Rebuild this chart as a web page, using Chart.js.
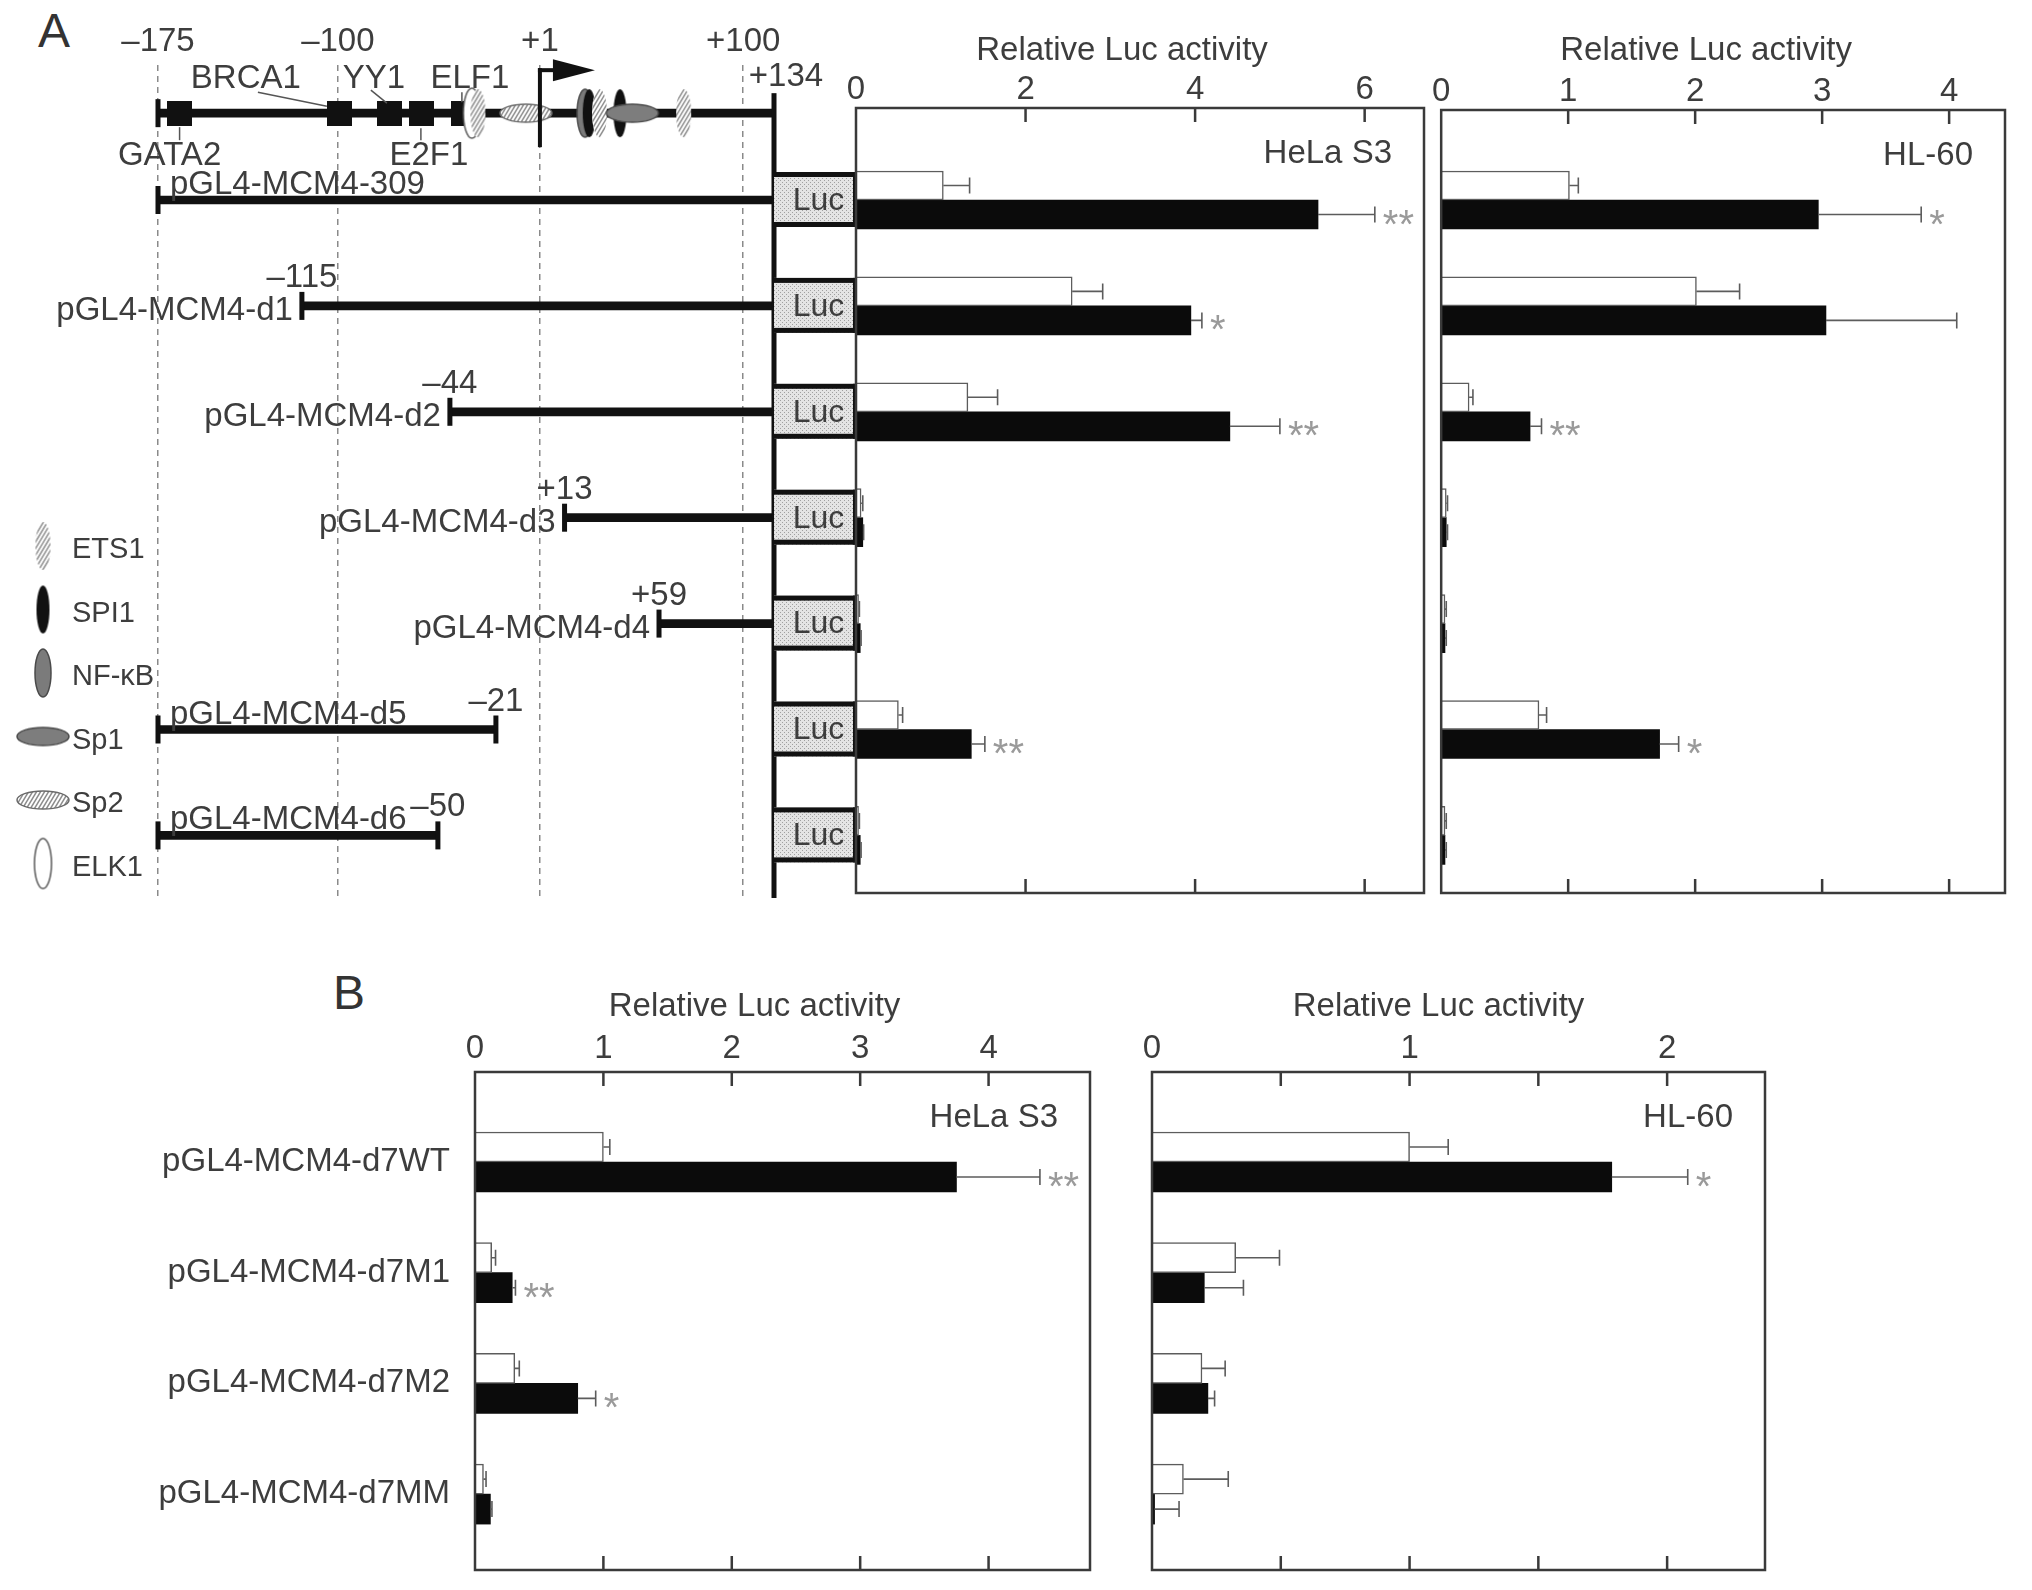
<!DOCTYPE html>
<html>
<head>
<meta charset="utf-8">
<title>MCM4 promoter reporter assays</title>
<script src="https://cdn.jsdelivr.net/npm/chart.js@4.4.1/dist/chart.umd.min.js"></script>
<style>
  html, body { margin: 0; padding: 0; background: #fff; }
  body { position: relative; width: 2032px; height: 1590px; overflow: hidden; font-family: 'Liberation Sans', Arial, sans-serif; color: #333; }
  .wrap { position: absolute; }
  .tag { position: absolute; font-size: 48px; line-height: 48px; }
</style>
</head>
<body>
<div class="tag" style="left:38px;top:7px">A</div>
<div class="tag" style="left:333px;top:969px">B</div>
<div class="wrap" style="left:0;top:0;width:858px;height:910px"><canvas id="map"></canvas></div>
<div class="wrap" style="left:840px;top:0;width:592px;height:910px"><canvas id="helaA"></canvas></div>
<div class="wrap" style="left:1432px;top:0;width:600px;height:910px"><canvas id="hlA"></canvas></div>
<div class="wrap" style="left:100px;top:960px;width:1010px;height:630px"><canvas id="helaB"></canvas></div>
<div class="wrap" style="left:1120px;top:960px;width:680px;height:630px"><canvas id="hlB"></canvas></div>
<script>
// promoter map (positions relative to the transcription start, no position 0)
const constructs = ['pGL4-MCM4-309', 'pGL4-MCM4-d1', 'pGL4-MCM4-d2', 'pGL4-MCM4-d3', 'pGL4-MCM4-d4', 'pGL4-MCM4-d5', 'pGL4-MCM4-d6'];
const constructStart = [-175, -115, -44, 13, 59, -175, -175];
const constructEnd = [134, 134, 134, 134, 134, -21, -50];
const promoter = [-175, 134];
const mapTicks = [-175, -100, 1, 100];
const siteNames = ['GATA2', 'BRCA1', 'YY1', 'E2F1', 'ELF1', 'ELK1', 'ETS1', 'Sp2', 'NF-κB', 'SPI1', 'ETS1', 'SPI1', 'Sp1', 'ETS1'];
const sitePos = [-166, -99, -74, -58, -40, -33, -30, -6, 23, 25, 30, 40, 46, 71];
const legendNames = ['ETS1', 'SPI1', 'NF-κB', 'Sp1', 'Sp2', 'ELK1'];

// relative Luc activity, panel A (open = white bars, fill = black bars)
const helaA_open = [1.03, 2.55, 1.32, 0.06, 0.03, 0.50, 0.03];
const helaA_openSD = [0.31, 0.36, 0.35, 0.02, 0.01, 0.05, 0.01];
const helaA_fill = [5.45, 3.95, 4.41, 0.08, 0.05, 1.36, 0.05];
const helaA_fillSD = [0.67, 0.13, 0.59, 0.01, 0.01, 0.16, 0.01];
const helaA_sig = ['**', '*', '**', '', '', '**', ''];

const hlA_open = [1.01, 2.01, 0.22, 0.04, 0.03, 0.77, 0.03];
const hlA_openSD = [0.07, 0.34, 0.03, 0.01, 0.01, 0.06, 0.01];
const hlA_fill = [2.97, 3.03, 0.70, 0.04, 0.03, 1.72, 0.03];
const hlA_fillSD = [0.81, 1.03, 0.09, 0.01, 0.01, 0.15, 0.01];
const hlA_sig = ['*', '', '**', '', '', '*', ''];

// panel B
const mutants = ['pGL4-MCM4-d7WT', 'pGL4-MCM4-d7M1', 'pGL4-MCM4-d7M2', 'pGL4-MCM4-d7MM'];
const helaB_open = [1.00, 0.13, 0.31, 0.066];
const helaB_openSD = [0.05, 0.03, 0.035, 0.02];
const helaB_fill = [3.75, 0.29, 0.80, 0.12];
const helaB_fillSD = [0.65, 0.025, 0.14, 0.012];
const helaB_sig = ['**', '**', '*', ''];

const hlB_open = [1.00, 0.325, 0.194, 0.122];
const hlB_openSD = [0.15, 0.17, 0.09, 0.174];
const hlB_fill = [1.785, 0.203, 0.217, 0.01];
const hlB_fillSD = [0.295, 0.152, 0.026, 0.095];
const hlB_sig = ['*', '', '', ''];

// axis ticks (labels only on whole numbers)
const helaA_ticks = [0, 2, 4, 6];
const hlA_ticks = [0, 1, 2, 3, 4];
const helaB_ticks = [0, 1, 2, 3, 4];
const hlB_ticks = [0, 0.5, 1, 1.5, 2];

const FONT = "'Liberation Sans', Arial, sans-serif";
const INK = '#3d3d3d';
Chart.defaults.font.family = FONT;
Chart.defaults.font.size = 33;
Chart.defaults.color = INK;

// the map is not drawn to scale: each stretch between these marks gets its own share of the width
const mapStops = [-175, -100, 1, 100, 134];
const mapShares = [0, 0.292, 0.620, 0.950, 1];

class MapScale extends Chart.LinearScale {
  static id = 'map';
  getPixelForValue(value) {
    let i = 1;
    while (i < mapStops.length - 1 && value > mapStops[i]) i++;
    const t = (value - mapStops[i - 1]) / (mapStops[i] - mapStops[i - 1]);
    return this.left + (mapShares[i - 1] + t * (mapShares[i] - mapShares[i - 1])) * this.width;
  }
  getValueForPixel(pixel) {
    const f = (pixel - this.left) / this.width;
    let i = 1;
    while (i < mapShares.length - 1 && f > mapShares[i]) i++;
    const t = (f - mapShares[i - 1]) / (mapShares[i] - mapShares[i - 1]);
    return mapStops[i - 1] + t * (mapStops[i] - mapStops[i - 1]);
  }
}
Chart.register(MapScale);

const fmtPos = v => (v < 0 ? '\u2013' + (-v) : '+' + v);
const rowRange = (top, bottom, first, step) => [(top - first) / step, (bottom - first) / step];
const geneRow = -0.82;

// little pictures for the binding sites
function ellipseIcon(w, h, fill, edge, hatch) {
  const c = document.createElement('canvas');
  c.width = Math.ceil(w + 4);
  c.height = Math.ceil(h + 4);
  const g = c.getContext('2d');
  const shape = () => { g.beginPath(); g.ellipse(c.width / 2, c.height / 2, w / 2, h / 2, 0, 0, Math.PI * 2); };
  shape();
  g.fillStyle = fill;
  g.fill();
  if (hatch) {
    g.save();
    shape();
    g.clip();
    g.strokeStyle = hatch;
    g.lineWidth = 1.5;
    for (let k = -c.height; k < c.width + c.height; k += 4) {
      g.beginPath();
      g.moveTo(k, c.height);
      g.lineTo(k + c.height * 0.6, 0);
      g.stroke();
    }
    g.restore();
  }
  if (edge) {
    shape();
    g.strokeStyle = edge;
    g.lineWidth = 1.5;
    g.stroke();
  }
  return c;
}
function boxIcon(w, h) {
  const c = document.createElement('canvas');
  c.width = w; c.height = h;
  const g = c.getContext('2d');
  g.fillStyle = '#111';
  g.fillRect(0, 0, w, h);
  return c;
}
const icons = {
  box: boxIcon(25, 25),
  boxThin: boxIcon(13, 25),
  ETS1: ellipseIcon(15, 48, '#fff', null, '#8c8c8c'),
  SPI1: ellipseIcon(13, 48, '#111'),
  'NF-κB': ellipseIcon(16, 48, '#7b7b7b', '#4a4a4a'),
  Sp1: ellipseIcon(52, 18, '#7d7d7d', '#4a4a4a'),
  Sp2: ellipseIcon(52, 18, '#fff', '#6a6a6a', '#8c8c8c'),
  ELK1: ellipseIcon(17, 50, '#fff', '#5a5a5a')
};
const iconOf = n => icons[n] || (n === 'ELF1' ? icons.boxThin : icons.box);

// where the names of the boxed sites sit, relative to the box
const boxLabelLayout = {
  GATA2: {dx: -10, up: false, lead: [0, 14, 0, 27]},
  BRCA1: {dx: -94, up: true, lead: [-82, -21, -13, -7]},
  YY1: {dx: -16, up: true, lead: [-19, -23, -3, -10]},
  E2F1: {dx: 7, up: false, lead: [-1, 15, -1, 27]},
  ELF1: {dx: 12, up: true, lead: [4, -21, 4, -11]}
};

const dots = document.createElement('canvas');
dots.width = dots.height = 4;
const dg = dots.getContext('2d');
dg.fillStyle = '#e4e4e4';
dg.fillRect(0, 0, 4, 4);
dg.fillStyle = '#a0a0a0';
dg.fillRect(0, 0, 1, 1);
dg.fillRect(2, 2, 1, 1);

const mapDecor = {
  id: 'mapDecor',
  afterDatasetsDraw(chart) {
    const {ctx, chartArea: a, scales: {x, y}} = chart;
    const gy = y.getPixelForValue(geneRow);
    ctx.save();
    ctx.fillStyle = '#111';
    const cap = (px, py) => ctx.fillRect(px - 2.5, py - 14, 5, 28);
    cap(x.getPixelForValue(promoter[0]), gy);
    constructs.forEach((c, i) => {
      const py = y.getPixelForValue(i);
      cap(x.getPixelForValue(constructStart[i]), py);
      if (constructEnd[i] < promoter[1]) cap(x.getPixelForValue(constructEnd[i]), py);
    });

    // reporter junction at +134
    const xr = x.getPixelForValue(promoter[1]);
    ctx.fillRect(xr - 2.5, gy - 20, 5, a.bottom - gy + 18);

    // transcription start
    const x1 = x.getPixelForValue(1);
    ctx.fillRect(x1 - 2, gy - 45, 4, 79);
    ctx.fillRect(x1 - 2, gy - 45, 16, 4);
    ctx.beginPath();
    ctx.moveTo(x1 + 13, gy - 54);
    ctx.lineTo(x1 + 55, gy - 43);
    ctx.lineTo(x1 + 13, gy - 32);
    ctx.closePath();
    ctx.fill();

    // Luc boxes
    const stipple = ctx.createPattern(dots, 'repeat');
    const lx1 = chart.width - 3;
    constructs.forEach((c, i) => {
      const py = y.getPixelForValue(i);
      ctx.fillStyle = stipple;
      ctx.fillRect(xr, py - 28, lx1 - xr, 55);
      ctx.fillStyle = '#111';
      ctx.fillRect(xr, py - 28, lx1 - xr, 5);
      ctx.fillRect(xr, py + 22, lx1 - xr, 5);
      ctx.fillRect(lx1 - 2, py - 28, 2, 55);
      ctx.fillStyle = INK;
      ctx.font = `32px ${FONT}`;
      ctx.textAlign = 'center';
      ctx.textBaseline = 'middle';
      ctx.fillText('Luc', (xr + lx1) / 2 + 4, py + 1);
    });

    // construct names and end positions
    ctx.fillStyle = INK;
    ctx.font = `33px ${FONT}`;
    constructs.forEach((name, i) => {
      const py = y.getPixelForValue(i);
      const xs = x.getPixelForValue(constructStart[i]);
      const xe = x.getPixelForValue(constructEnd[i]);
      if (constructStart[i] > promoter[0]) {
        ctx.textAlign = 'right';
        ctx.textBaseline = 'middle';
        ctx.fillText(name, xs - 9, py + 5);
        ctx.textAlign = 'center';
        ctx.textBaseline = 'alphabetic';
        ctx.fillText(fmtPos(constructStart[i]), xs, py - 19);
      } else {
        ctx.textAlign = 'left';
        ctx.textBaseline = 'alphabetic';
        ctx.fillText(name, xs + 12, py - 6);
        if (constructEnd[i] < promoter[1]) {
          ctx.textAlign = 'center';
          ctx.fillText(fmtPos(constructEnd[i]), xe, py - 19);
        }
      }
    });
    ctx.textAlign = 'center';
    ctx.textBaseline = 'alphabetic';
    ctx.fillText(fmtPos(promoter[1]), xr + 12, 86);

    // names of boxed sites
    ctx.strokeStyle = '#555';
    ctx.lineWidth = 1.5;
    siteNames.forEach((n, k) => {
      const lay = boxLabelLayout[n];
      if (!lay) return;
      const px = x.getPixelForValue(sitePos[k]);
      ctx.fillText(n, px + lay.dx, lay.up ? gy - 25 : gy + 52);
      ctx.beginPath();
      ctx.moveTo(px + lay.lead[0], gy + lay.lead[1]);
      ctx.lineTo(px + lay.lead[2], gy + lay.lead[3]);
      ctx.stroke();
    });

    // key
    ctx.font = `29px ${FONT}`;
    ctx.textAlign = 'left';
    ctx.textBaseline = 'middle';
    legendNames.forEach((n, j) => {
      const cy = 546 + j * 63.5;
      const ic = icons[n];
      ctx.drawImage(ic, 43 - ic.width / 2, cy - ic.height / 2);
      ctx.fillText(n, 72, cy + 4);
    });
    ctx.restore();
  }
};

const [mapMin, mapMax] = rowRange(65, 900, 200, 105.9);
new Chart(document.getElementById('map'), {
  type: 'bar',
  data: {
    datasets: [
      {
        type: 'scatter',
        order: 0,
        data: sitePos.map(p => ({x: p, y: geneRow})),
        pointStyle: c => iconOf(siteNames[c.dataIndex]),
        pointRadius: 4
      },
      {
        order: 1,
        data: [{y: geneRow, x: promoter}].concat(constructs.map((c, i) => ({y: i, x: [constructStart[i], constructEnd[i]]}))),
        backgroundColor: '#111',
        borderWidth: 0,
        barThickness: 8
      }
    ]
  },
  options: {
    indexAxis: 'y',
    animation: false,
    events: [],
    responsive: true,
    maintainAspectRatio: false,
    layout: {padding: {left: 158, right: 84, top: 0, bottom: 10}},
    scales: {
      x: {
        type: 'map',
        position: 'top',
        min: promoter[0],
        max: promoter[1],
        afterBuildTicks: s => { s.ticks = mapTicks.map(v => ({value: v})); },
        afterFit: s => { s.height = 65; },
        grid: {drawTicks: false, color: '#8a8a8a', lineWidth: 1.5},
        border: {display: false, dash: [6, 5]},
        ticks: {padding: 5, autoSkip: false, maxRotation: 0, callback: v => fmtPos(v), font: {size: 33, lineHeight: 1.1}}
      },
      y: {type: 'linear', offset: false, reverse: true, min: mapMin, max: mapMax, display: false}
    },
    plugins: {legend: {display: false}, tooltip: {enabled: false}}
  },
  plugins: [mapDecor]
});

const frame = {
  id: 'frame',
  afterDraw(chart, args, o) {
    const {ctx, chartArea: a, scales: {x}} = chart;
    ctx.save();
    ctx.strokeStyle = '#3a3a3a';
    ctx.lineWidth = 2.5;
    ctx.strokeRect(a.left, a.top, a.right - a.left, a.bottom - a.top);
    ctx.beginPath();
    o.marks.forEach(v => {
      const px = x.getPixelForValue(v);
      ctx.moveTo(px, a.top);
      ctx.lineTo(px, a.top + 14);
      ctx.moveTo(px, a.bottom);
      ctx.lineTo(px, a.bottom - 14);
    });
    ctx.stroke();
    ctx.fillStyle = INK;
    ctx.font = `33px ${FONT}`;
    ctx.textBaseline = 'alphabetic';
    ctx.textAlign = 'center';
    ctx.fillText('Relative Luc activity', (a.left + a.right) / 2 + o.titleDx, a.top - o.titleRise);
    ctx.textAlign = 'right';
    ctx.fillText(o.cell, a.right - 32, a.top + 55);
    ctx.restore();
  }
};

const errorBars = {
  id: 'errorBars',
  afterDatasetsDraw(chart) {
    const {ctx, scales: {x}} = chart;
    ctx.save();
    chart.data.datasets.forEach((ds, d) => {
      chart.getDatasetMeta(d).data.forEach((bar, i) => {
        const v = ds.data[i].x;
        const x0 = x.getPixelForValue(v);
        const x1 = x.getPixelForValue(v + ds.sd[i]);
        ctx.strokeStyle = '#5c5c5c';
        ctx.lineWidth = 1.6;
        ctx.beginPath();
        ctx.moveTo(x0, bar.y);
        ctx.lineTo(x1, bar.y);
        ctx.moveTo(x1, bar.y - 8);
        ctx.lineTo(x1, bar.y + 8);
        ctx.stroke();
        if (ds.sig && ds.sig[i]) {
          ctx.fillStyle = '#9a9a9a';
          ctx.font = `40px ${FONT}`;
          ctx.textAlign = 'left';
          ctx.textBaseline = 'alphabetic';
          ctx.fillText(ds.sig[i], x1 + 8, bar.y + 23);
        }
      });
    });
    ctx.restore();
  }
};

function activityPanel(id, p) {
  const sets = [
    {label: 'open', data: p.open.map((v, i) => ({x: v, y: i})), sd: p.openSD, backgroundColor: '#fff', borderColor: '#5c5c5c', borderWidth: 1.5},
    {label: 'fill', data: p.fill.map((v, i) => ({x: v, y: i})), sd: p.fillSD, sig: p.sig, backgroundColor: '#0b0b0b', borderColor: '#0b0b0b', borderWidth: 0}
  ];
  sets.forEach(s => { s.barThickness = p.bar; s.borderSkipped = 'start'; });
  const [ymin, ymax] = p.rows;
  return new Chart(document.getElementById(id), {
    type: 'bar',
    data: {datasets: sets},
    options: {
      indexAxis: 'y',
      animation: false,
      events: [],
      responsive: true,
      maintainAspectRatio: false,
      layout: {padding: p.pad},
      scales: {
        x: {
          type: 'linear',
          position: 'top',
          min: 0,
          max: p.max,
          afterBuildTicks: s => { s.ticks = p.ticks.filter(Number.isInteger).map(v => ({value: v})); },
          afterFit: s => { s.height = p.axisH; },
          grid: {display: false, drawTicks: false},
          border: {display: false},
          ticks: {padding: p.tickPad, autoSkip: false, maxRotation: 0, callback: v => String(v), font: {size: 33, lineHeight: 1.1}}
        },
        y: {
          type: 'linear',
          offset: false,
          reverse: true,
          min: ymin,
          max: ymax,
          display: !!p.names,
          afterBuildTicks: s => { s.ticks = (p.names || []).map((n, i) => ({value: i})); },
          afterFit: s => {
            if (!p.names) return;
            s.width = p.axisW;
            s.paddingTop = 0;
            s.paddingBottom = 0;
          },
          grid: {display: false, drawTicks: false},
          border: {display: false},
          ticks: {padding: 25, autoSkip: false, callback: v => (p.names ? p.names[v] : ''), font: {size: 33}}
        }
      },
      plugins: {
        legend: {display: false},
        tooltip: {enabled: false},
        frame: {marks: p.ticks.filter(v => v > 0), cell: p.cell, titleDx: p.titleDx, titleRise: p.titleRise}
      }
    },
    plugins: [frame, errorBars]
  });
}

activityPanel('helaA', {
  open: helaA_open, openSD: helaA_openSD, fill: helaA_fill, fillSD: helaA_fillSD, sig: helaA_sig,
  ticks: helaA_ticks, max: 6.7, cell: 'HeLa S3', bar: 29,
  pad: {left: 16, right: 8, top: 0, bottom: 17}, axisH: 108, tickPad: 0, titleDx: -18, titleRise: 48,
  rows: rowRange(108, 893, 200, 105.9)
});
activityPanel('hlA', {
  open: hlA_open, openSD: hlA_openSD, fill: hlA_fill, fillSD: hlA_fillSD, sig: hlA_sig,
  ticks: hlA_ticks, max: 4.44, cell: 'HL-60', bar: 29,
  pad: {left: 5, right: 27, top: 0, bottom: 17}, axisH: 110, tickPad: 0, titleDx: -17, titleRise: 50,
  rows: rowRange(110, 893, 200, 105.9)
});
activityPanel('helaB', {
  open: helaB_open, openSD: helaB_openSD, fill: helaB_fill, fillSD: helaB_fillSD, sig: helaB_sig,
  ticks: helaB_ticks, max: 4.79, cell: 'HeLa S3', bar: 30, names: mutants, axisW: 375,
  pad: {left: 0, right: 20, top: 0, bottom: 20}, axisH: 112, tickPad: 5, titleDx: -28, titleRise: 56,
  rows: rowRange(112, 610, 202, 110.7)
});
activityPanel('hlB', {
  open: hlB_open, openSD: hlB_openSD, fill: hlB_fill, fillSD: hlB_fillSD, sig: hlB_sig,
  ticks: hlB_ticks, max: 2.38, cell: 'HL-60', bar: 30,
  pad: {left: 32, right: 35, top: 0, bottom: 20}, axisH: 112, tickPad: 5, titleDx: -20, titleRise: 56,
  rows: rowRange(112, 610, 202, 110.7)
});
</script>
</body>
</html>
